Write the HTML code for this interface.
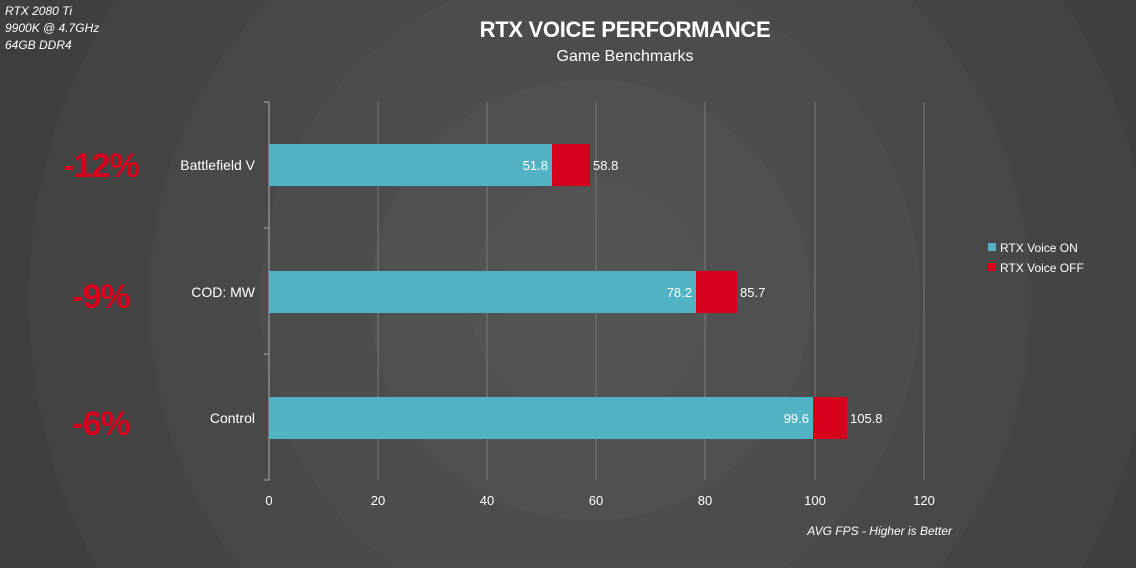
<!DOCTYPE html>
<html><head><meta charset="utf-8"><style>
html,body{margin:0;padding:0}
body{width:1136px;height:568px;overflow:hidden;position:relative;font-family:"Liberation Sans",sans-serif;
background:radial-gradient(circle at 590px 300px,#545454 0px,#535353 120px,#505050 121px,#505050 220px,#4c4c4c 221px,#4c4c4c 330px,#484848 331px,#474747 440px,#434343 441px,#434343 560px,#3f3f3f 561px,#3c3c3c 800px);}
.t{position:absolute;white-space:nowrap}
</style></head><body>
<div class="t" style="left:5px;top:3px;font-size:12px;line-height:17px;font-style:italic;color:#fff">RTX 2080 Ti<br>9900K @ 4.7GHz<br>64GB DDR4</div>
<div class="t" style="left:0;width:1250px;top:17px;text-align:center;font-size:22px;font-weight:bold;color:#fff;letter-spacing:-0.3px">RTX VOICE PERFORMANCE</div>
<div class="t" style="left:0;width:1250px;top:48px;text-align:center;font-size:16px;color:#fff">Game Benchmarks</div>
<svg width="1136" height="568" style="position:absolute;left:0;top:0" font-family="Liberation Sans, sans-serif">
<g stroke="#6a6a6a" stroke-width="1.5">
<line x1="378" y1="102" x2="378" y2="480"/><line x1="487" y1="102" x2="487" y2="480"/>
<line x1="596" y1="102" x2="596" y2="480"/><line x1="705" y1="102" x2="705" y2="480"/>
<line x1="815" y1="102" x2="815" y2="480"/><line x1="924" y1="102" x2="924" y2="480"/>
</g>
<g stroke="#8a8a8a" stroke-width="1.5">
<line x1="269" y1="102" x2="269" y2="480"/>
<line x1="264" y1="102" x2="269" y2="102"/><line x1="264" y1="228" x2="269" y2="228"/>
<line x1="264" y1="354" x2="269" y2="354"/><line x1="264" y1="480" x2="269" y2="480"/>
</g>
<rect x="269" y="144" width="283" height="42" fill="#50b2c2"/><rect x="552" y="144" width="38" height="42" fill="#d6001c"/>
<rect x="269" y="271" width="427" height="42" fill="#50b2c2"/><rect x="696" y="271" width="41" height="42" fill="#d6001c"/>
<rect x="269" y="397" width="544" height="42" fill="#50b2c2"/><rect x="813" y="397" width="34" height="42" fill="#d6001c"/>
<g fill="#fff" font-size="13">
<text x="548" y="170" text-anchor="end">51.8</text><text x="593" y="170">58.8</text>
<text x="692" y="297" text-anchor="end">78.2</text><text x="740" y="297">85.7</text>
<text x="809" y="423" text-anchor="end">99.6</text><text x="850" y="423">105.8</text>
<g font-size="14" text-anchor="end"><text x="255" y="170">Battlefield V</text><text x="255" y="297">COD: MW</text><text x="255" y="423">Control</text></g>
<g text-anchor="middle"><text x="269" y="505">0</text><text x="378" y="505">20</text><text x="487" y="505">40</text><text x="596" y="505">60</text><text x="705" y="505">80</text><text x="815" y="505">100</text><text x="924" y="505">120</text></g>
<text x="952" y="535" text-anchor="end" font-style="italic" font-size="12">AVG FPS - Higher is Better</text>
<text x="1000" y="252" font-size="12">RTX Voice ON</text><text x="1000" y="272" font-size="12">RTX Voice OFF</text>
</g>
<rect x="988" y="243" width="8" height="8" fill="#50b2c2"/><rect x="988" y="263" width="8" height="8" fill="#d6001c"/>
<g fill="#d6001c" font-size="34" font-weight="bold" text-anchor="middle" letter-spacing="-1">
<text x="101" y="177">-12%</text><text x="101" y="308">-9%</text><text x="101" y="435">-6%</text>
</g>
</svg>
</body></html>
